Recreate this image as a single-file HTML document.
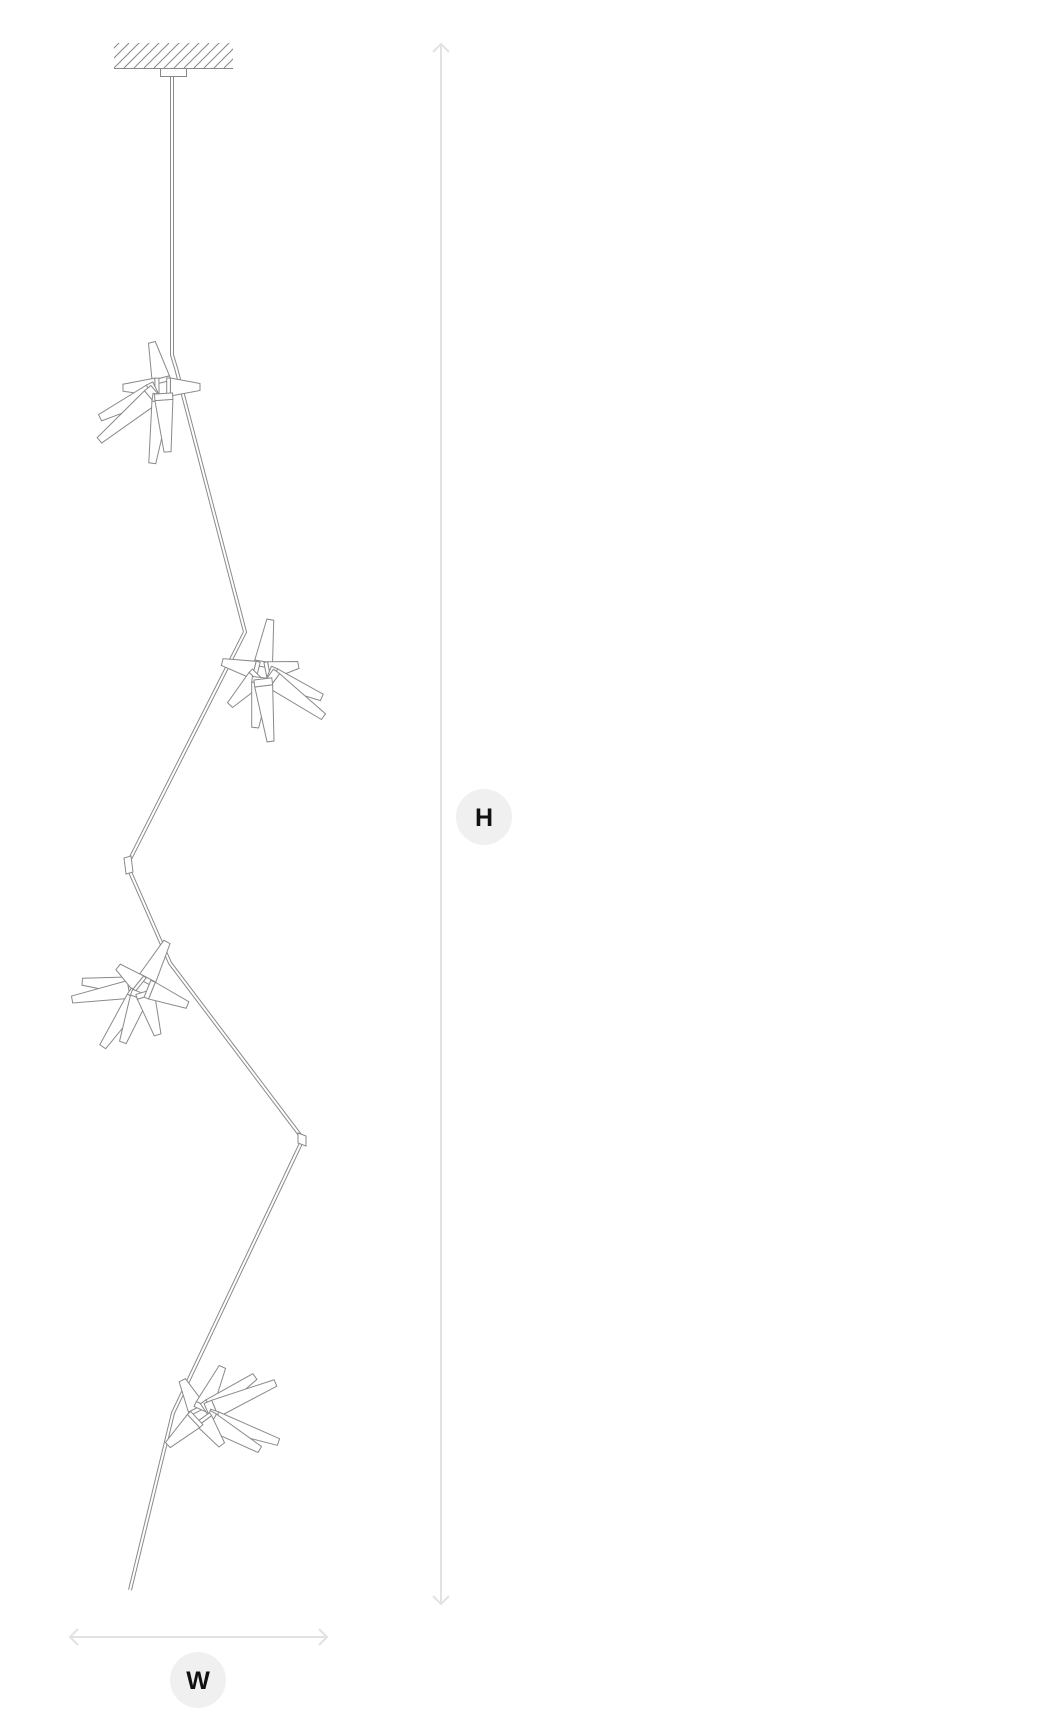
<!DOCTYPE html>
<html><head><meta charset="utf-8"><style>
html,body{margin:0;padding:0;background:#fff;}
svg{display:block;}
text{font-family:"Liberation Sans",sans-serif;}
</style></head><body>
<svg width="1048" height="1712" viewBox="0 0 1048 1712" xmlns="http://www.w3.org/2000/svg">
<defs>
<clipPath id="hc"><rect x="114" y="43" width="119" height="25"/></clipPath>
<g id="cone">
<polygon points="10,-9 50,-3.5 50,3.5 10,9" fill="#fff" stroke="#8a8a8a" stroke-width="1" vector-effect="non-scaling-stroke"/>
<polygon points="5,-9 10,-9 10,9 5,9" fill="#fff" stroke="#8a8a8a" stroke-width="1" vector-effect="non-scaling-stroke"/>
</g>
</defs>
<g clip-path="url(#hc)" stroke="#888" stroke-width="1">
<line x1="104" y1="68" x2="134" y2="38"/><line x1="114" y1="68" x2="144" y2="38"/><line x1="124" y1="68" x2="154" y2="38"/><line x1="134" y1="68" x2="164" y2="38"/><line x1="144" y1="68" x2="174" y2="38"/><line x1="154" y1="68" x2="184" y2="38"/><line x1="164" y1="68" x2="194" y2="38"/><line x1="174" y1="68" x2="204" y2="38"/><line x1="184" y1="68" x2="214" y2="38"/><line x1="194" y1="68" x2="224" y2="38"/><line x1="204" y1="68" x2="234" y2="38"/><line x1="214" y1="68" x2="244" y2="38"/><line x1="224" y1="68" x2="254" y2="38"/><line x1="94" y1="68" x2="124" y2="38"/>
</g>
<line x1="114" y1="68.5" x2="233" y2="68.5" stroke="#888" stroke-width="1"/>
<rect x="160.5" y="68.5" width="26" height="8" fill="#fff" stroke="#888"/>
<polyline points="172,77 172,355 176,368 245,632 127,865 170,963 303,1139 173,1413 130,1590" fill="none" stroke="#8a8a8a" stroke-width="4" stroke-linejoin="round"/>
<polyline points="172,77 172,355 176,368 245,632 127,865 170,963 303,1139 173,1413 130,1590" fill="none" stroke="#fff" stroke-width="2" stroke-linejoin="round"/>
<g fill="#fff" stroke="#8a8a8a" stroke-width="1">
<polygon points="124,858 131,856 133,872 126,874"/>
<polygon points="298,1133 306,1136 306,1146 298,1143"/>
</g>
<g transform="translate(163,387)">
<use href="#cone" transform="rotate(-104) scale(0.92,1)"/>
<use href="#cone" transform="rotate(0) scale(0.74,1)"/>
<use href="#cone" transform="rotate(179) scale(0.8,1)"/>
<use href="#cone" transform="rotate(154) scale(1.4,1)"/>
<use href="#cone" transform="rotate(140) scale(1.66,1)"/>
<use href="#cone" transform="rotate(98) scale(1.54,1)"/>
<use href="#cone" transform="rotate(86) scale(1.3,1)"/>
</g>
<g transform="translate(262,672)">
<use href="#cone" transform="rotate(-81) scale(1.06,1)"/>
<use href="#cone" transform="rotate(194) scale(0.82,1)"/>
<use href="#cone" transform="rotate(-11) scale(0.74,1)"/>
<use href="#cone" transform="rotate(23) scale(1.3,1)"/>
<use href="#cone" transform="rotate(36) scale(1.52,1)"/>
<use href="#cone" transform="rotate(134) scale(0.92,1)"/>
<use href="#cone" transform="rotate(97) scale(1.12,1)"/>
<use href="#cone" transform="rotate(83) scale(1.4,1)"/>
</g>
<g transform="translate(143,987)">
<use href="#cone" transform="rotate(-62) scale(1.02,1)"/>
<use href="#cone" transform="rotate(185) scale(1.22,1)"/>
<use href="#cone" transform="rotate(170) scale(1.44,1)"/>
<use href="#cone" transform="rotate(219) scale(0.64,1)"/>
<use href="#cone" transform="rotate(124) scale(1.44,1)"/>
<use href="#cone" transform="rotate(110) scale(1.18,1)"/>
<use href="#cone" transform="rotate(73) scale(1.0,1)"/>
<use href="#cone" transform="rotate(22) scale(0.96,1)"/>
</g>
<g transform="translate(200,1415)">
<use href="#cone" transform="rotate(-117) scale(0.78,1)"/>
<use href="#cone" transform="rotate(-65) scale(1.06,1)"/>
<use href="#cone" transform="rotate(-35) scale(1.34,1)"/>
<use href="#cone" transform="rotate(-23) scale(1.64,1)"/>
<use href="#cone" transform="rotate(19) scale(1.66,1)"/>
<use href="#cone" transform="rotate(30) scale(1.38,1)"/>
<use href="#cone" transform="rotate(54) scale(0.74,1)"/>
<use href="#cone" transform="rotate(137) scale(0.88,1)"/>
</g>
<g stroke="#e2e2e2" stroke-width="2" fill="none">
<line x1="441" y1="44" x2="441" y2="1604"/>
<polyline points="433,52 441,44 449,52"/>
<polyline points="433,1596 441,1604 449,1596"/>
<line x1="70" y1="1637" x2="327" y2="1637"/>
<polyline points="78,1629 70,1637 78,1645"/>
<polyline points="319,1629 327,1637 319,1645"/>
</g>
<circle cx="484" cy="817" r="28" fill="#f0f0f0"/>
<text x="484" y="826" font-size="25" font-weight="bold" text-anchor="middle" fill="#111">H</text>
<circle cx="198" cy="1680" r="28" fill="#f0f0f0"/>
<text x="198" y="1689" font-size="25" font-weight="bold" text-anchor="middle" fill="#111">W</text>
</svg>
</body></html>
